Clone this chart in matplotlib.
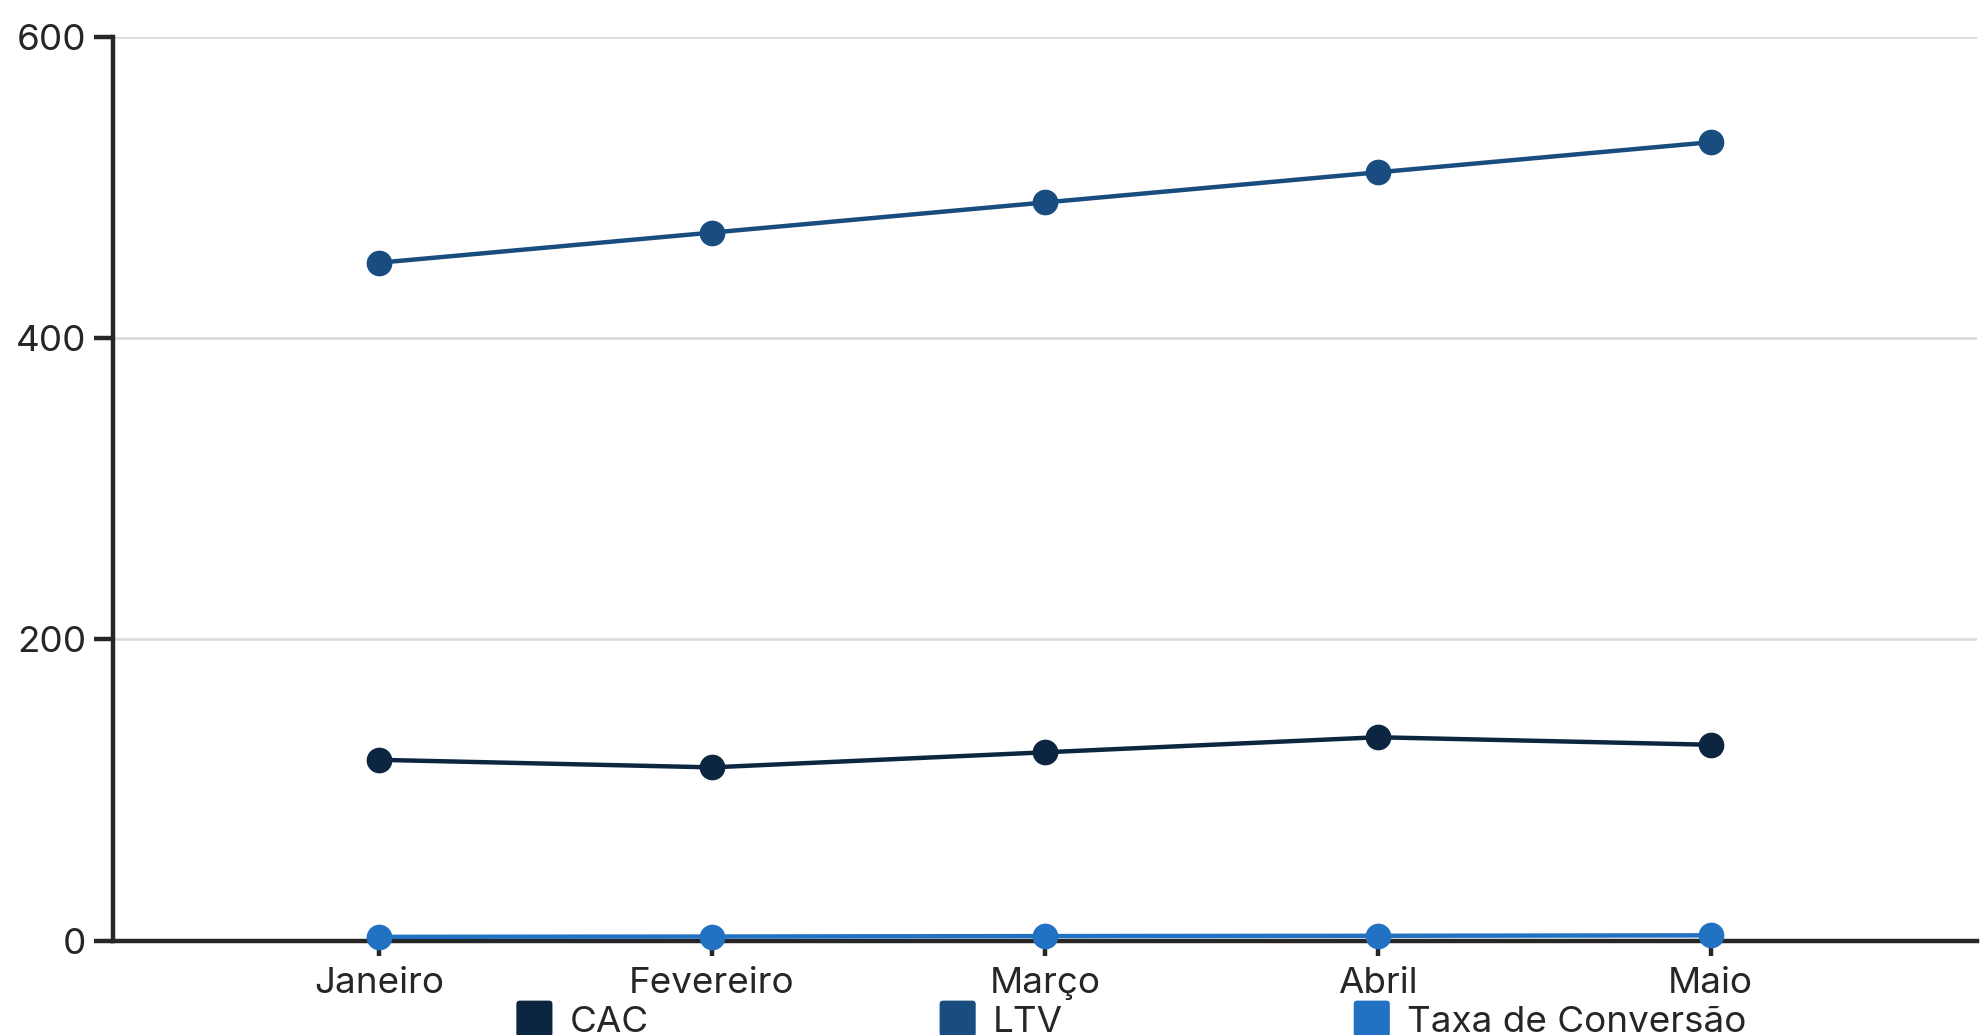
#!/usr/bin/env python3

import matplotlib
matplotlib.use('Agg')
import matplotlib.pyplot as plt
import matplotlib.patches as mpatches
from matplotlib.legend_handler import HandlerPatch

months = ['Janeiro', 'Fevereiro', 'Março', 'Abril', 'Maio']
cac = [120, 115, 125, 135, 130]
ltv = [450, 470, 490, 510, 530]
taxa_conversao = [2.5, 2.7, 3.0, 3.2, 3.5]

series = [
    ('CAC', cac, '#0c2541'),
    ('LTV', ltv, '#194d80'),
    ('Taxa de Conversão', taxa_conversao, '#2272c3'),
]

plt.rcParams['font.family'] = ['Inter', 'DejaVu Sans']
text_col = '#262626'
fsize = 26.5

fig = plt.figure(figsize=(19.85, 10.35), dpi=100)
ax = fig.add_axes([0.0568, 0.0912, 0.9392, 0.8733])

x = list(range(len(months)))
for name, vals, col in series:
    ax.plot(x, vals, color=col, linewidth=3.2, marker='o', markersize=17.5,
            label=name, zorder=3, clip_on=False)

ax.set_xlim(-0.8, len(months) - 0.2)
ax.set_ylim(0, 600)
ax.set_yticks([0, 200, 400, 600])
ax.set_xticks(x)
ax.set_xticklabels(months)

for s in ['top', 'right']:
    ax.spines[s].set_visible(False)
for s in ['left', 'bottom']:
    ax.spines[s].set_linewidth(3.2)
    ax.spines[s].set_color(text_col)

ax.yaxis.grid(True, color='#d9d9d9', linewidth=1.8)
ax.set_axisbelow(True)
ax.tick_params(axis='y', length=14, width=3.2, color=text_col,
               labelsize=fsize, labelcolor=text_col, pad=5)
ax.tick_params(axis='x', length=11, width=3.2, color=text_col,
               labelsize=fsize, labelcolor=text_col, pad=8)
# the axis line covers the zero gridline
ax.get_ygridlines()[0].set_visible(False)


def rounded_square(legend, orig_handle, xdescent, ydescent, width, height, fontsize):
    side = 26
    x0 = -xdescent + width / 2 - side / 2
    y0 = -ydescent + height / 2 - side / 2
    return mpatches.FancyBboxPatch((x0, y0), side, side,
                                   boxstyle='round,pad=0,rounding_size=2.5')


handles = [mpatches.Patch(facecolor=col, edgecolor='none', label=name)
           for name, _, col in series]
fig.legend(handles=handles, loc='center',
           bbox_to_anchor=(0.5698, 0.0125), ncol=3, frameon=False,
           fontsize=fsize, labelcolor=text_col, handletextpad=0.45,
           columnspacing=7.9, handlelength=1.0,
           handler_map={mpatches.Patch: HandlerPatch(patch_func=rounded_square)})

fig.savefig('out.png', dpi=100)
